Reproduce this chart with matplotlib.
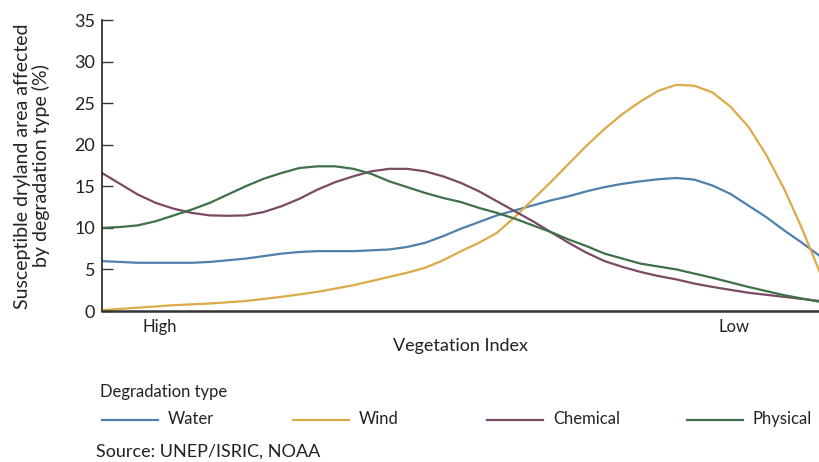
import matplotlib
matplotlib.use("Agg")
import matplotlib.pyplot as plt
from matplotlib.lines import Line2D

plt.rcParams['font.family'] = ['Lato', 'DejaVu Sans']

# Vegetation index position (0 = high, 100 = low)
veg_index = [0, 2.5, 5, 7.5, 10, 12.5, 15, 17.5, 20, 22.5, 25, 27.5, 30, 32.5,
             35, 37.5, 40, 42.5, 45, 47.5, 50, 52.5, 55, 57.5, 60, 62.5, 65,
             67.5, 70, 72.5, 75, 77.5, 80, 82.5, 85, 87.5, 90, 92.5, 95, 97.5, 100]

water = [6.0, 5.9, 5.8, 5.8, 5.8, 5.8, 5.9, 6.1, 6.3, 6.6, 6.9, 7.1, 7.2, 7.2,
         7.2, 7.3, 7.4, 7.7, 8.2, 9.0, 9.9, 10.7, 11.5, 12.1, 12.7, 13.3, 13.8,
         14.4, 14.9, 15.3, 15.6, 15.85, 16.0, 15.8, 15.1, 14.1, 12.7, 11.3, 9.7, 8.2, 6.6]
wind = [0.1, 0.25, 0.4, 0.55, 0.7, 0.8, 0.9, 1.05, 1.2, 1.45, 1.7, 2.0, 2.3, 2.7,
        3.1, 3.6, 4.1, 4.6, 5.2, 6.1, 7.2, 8.2, 9.4, 11.3, 13.4, 15.5, 17.7,
        19.9, 21.9, 23.7, 25.2, 26.5, 27.2, 27.1, 26.3, 24.6, 22.2, 18.8, 14.7, 9.9, 4.6]
chemical = [16.6, 15.3, 14.0, 13.0, 12.3, 11.8, 11.5, 11.45, 11.5, 11.9, 12.6, 13.5,
            14.6, 15.5, 16.2, 16.8, 17.1, 17.1, 16.8, 16.2, 15.4, 14.4, 13.2, 12.0,
            10.8, 9.5, 8.2, 7.0, 6.0, 5.3, 4.7, 4.2, 3.8, 3.3, 2.9, 2.55, 2.2, 1.95,
            1.7, 1.45, 1.2]
physical = [10.0, 10.1, 10.3, 10.8, 11.5, 12.2, 13.0, 14.0, 15.0, 15.9, 16.6, 17.2,
            17.4, 17.4, 17.1, 16.5, 15.6, 14.9, 14.2, 13.6, 13.1, 12.4, 11.8, 11.1,
            10.3, 9.5, 8.6, 7.8, 6.9, 6.3, 5.7, 5.35, 5.0, 4.5, 4.0, 3.45, 2.9, 2.4,
            1.9, 1.5, 1.1]

series_names = ['Water', 'Wind', 'Chemical', 'Physical']
series_values = [water, wind, chemical, physical]
colours = ['#4f80ab', '#dcaa48', '#7a4a64', '#3f7047']

y_ticks = [0, 5, 10, 15, 20, 25, 30, 35]
x_tick_pos = [8, 88]
x_tick_labels = ['High', 'Low']

W, H = 820, 462
fs = 12
fig = plt.figure(figsize=(W / 100, H / 100), dpi=100)
ax = fig.add_axes([102 / W, 1 - 311 / H, 718 / W, 291 / H])

for name, vals, col in zip(series_names, series_values, colours):
    ax.plot(veg_index, vals, color=col, lw=1.6, label=name, solid_capstyle='round')

ax.set_xlim(0, 100)
ax.set_ylim(0, 35)
ax.set_yticks(y_ticks)
ax.set_xticks(x_tick_pos, x_tick_labels)
ax.tick_params(axis='y', direction='in', length=8, width=1, color='#333333',
               pad=5, labelsize=13, labelcolor='#222222')
ax.tick_params(axis='x', length=0, pad=6, labelsize=fs, labelcolor='#222222')
for side in ['top', 'right']:
    ax.spines[side].set_visible(False)
ax.spines['left'].set_color('#333333')
ax.spines['left'].set_linewidth(1.3)
ax.spines['bottom'].set_color('#333333')
ax.spines['bottom'].set_linewidth(1.8)
ax.set_xlabel('Vegetation Index', fontsize=13, color='#222222', labelpad=2)

fig.text(32 / W, 1 - 166 / H, 'Susceptible dryland area affected\nby degradation type (%)',
         rotation=90, ha='center', va='center', multialignment='center',
         fontsize=14, color='#222222', linespacing=1.05)

# legend drawn by hand so the uneven spacing matches
fig.text(100 / W, 1 - 392 / H, 'Degradation type', ha='left', va='center',
         fontsize=fs, color='#222222')
leg_x = [102, 293, 487, 687]
for name, col, lx in zip(series_names, colours, leg_x):
    fig.add_artist(Line2D([lx / W, (lx + 56) / W], [1 - 420 / H, 1 - 420 / H],
                          color=col, lw=1.6, transform=fig.transFigure))
    fig.text((lx + 66) / W, 1 - 419 / H, name, ha='left', va='center',
             fontsize=fs, color='#222222')

fig.text(96 / W, 1 - 452 / H, 'Source: UNEP/ISRIC, NOAA', ha='left', va='center',
         fontsize=13, color='#222222')

fig.savefig('out.png', dpi=100)
